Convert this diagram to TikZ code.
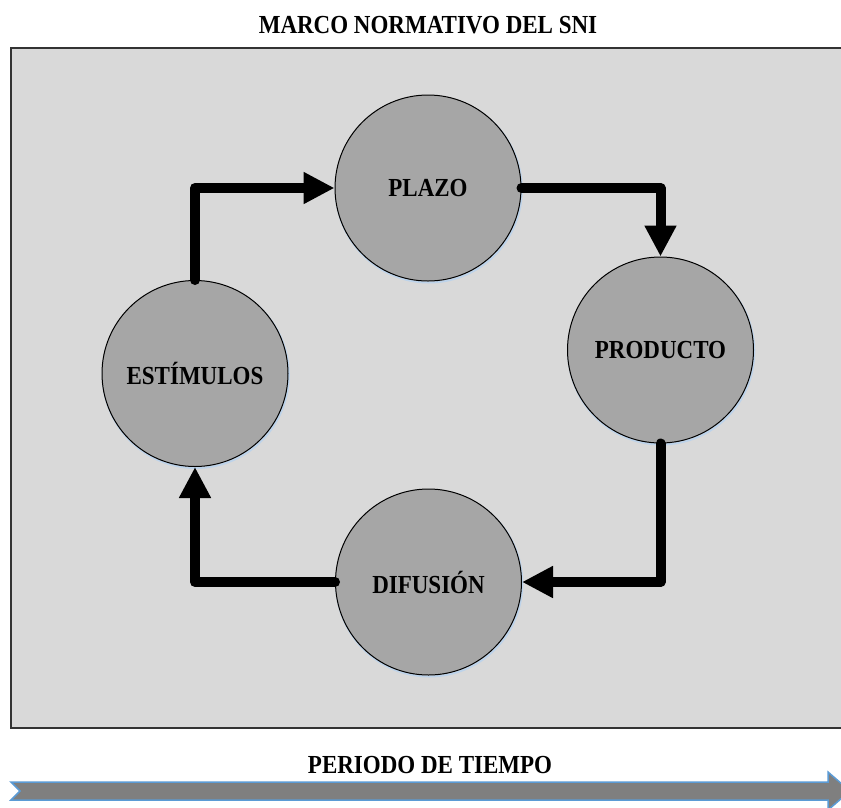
\documentclass[tikz,border=0pt]{standalone}
\usepackage{fontspec}
\setmainfont{Liberation Serif}
\usetikzlibrary{arrows.meta}
\definecolor{panelgray}{HTML}{D9D9D9}
\definecolor{stagegray}{HTML}{A6A6A6}
\definecolor{bandgray}{HTML}{7F7F7F}
\definecolor{bandblue}{HTML}{5B9BD5}
\definecolor{glowblue}{HTML}{BDD3EA}
% bold caption text, slightly taller than wide
\newcommand{\tallcap}[1]{\scalebox{1}[1.13]{#1}}
\tikzset{
  stage/.style={circle, minimum size=186pt, inner sep=0pt, fill=stagegray,
    draw=black, line width=1pt, font=\fontsize{23}{27}\selectfont\bfseries},
  heading/.style={font=\fontsize{23}{27}\selectfont\bfseries, inner sep=0pt},
  conn/.style={line width=10pt, line cap=round, line join=round,
    -{Triangle[length=31pt,width=30pt]}},
}
\begin{document}
\begin{tikzpicture}[x=1pt,y=-1pt]
  \useasboundingbox (0,0) rectangle (841,807);
  \fill[white] (0,0) rectangle (841,807);

  % panel
  \fill[panelgray] (11,48) rectangle (841,728);
  \draw[line width=1.6pt, black!80] (841,48) -- (11,48) -- (11,728) -- (841,728);

  \node[heading] (title) at (428,25) {\tallcap{MARCO NORMATIVO DEL SNI}};

  % soft glow under the stages
  \foreach \cx/\cy in {428/188, 660.5/350, 195/373.5, 428.5/582}
    \draw[glowblue, line width=2pt] (\cx+0.8,\cy+1.5) circle[radius=93pt];

  \node[stage] (plazo) at (428,188) {\tallcap{PLAZO}};
  \node[stage] (prod) at (660.5,350) {\tallcap{PRODUCTO}};
  \node[stage] (est) at (195,373.5) {\tallcap{ESTÍMULOS}};
  \node[stage] (dif) at (428.5,582) {\tallcap{DIFUSIÓN}};

  \draw[conn] (est.north) |- (plazo.west);
  \draw[conn] (plazo.east) -| (prod.north);
  \draw[conn] (prod.south) |- (dif.east);
  \draw[conn] (dif.west) -| (est.south);

  % time band
  \node[heading] (period) at (430,765) {\tallcap{PERIODO DE TIEMPO}};
  \begin{scope}
    \clip (0,0) rectangle (841,807);
    \filldraw[fill=bandgray, draw=bandblue, line width=1.5pt, line join=miter]
      (11,782) -- (828,782) -- (828,772) -- (850,791) -- (828,810)
      -- (828,800) -- (11,800) -- (20,791) -- cycle;
  \end{scope}
\end{tikzpicture}
\end{document}
